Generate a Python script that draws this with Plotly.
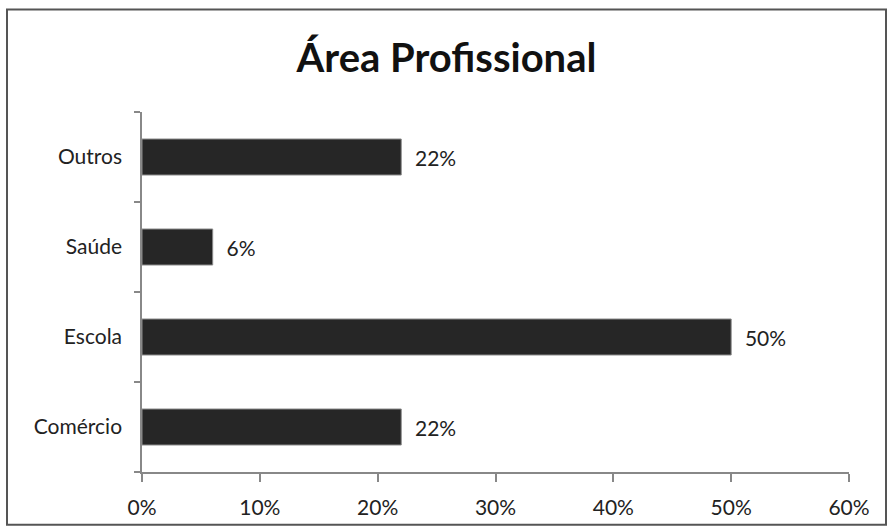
import plotly.graph_objects as go

categories = ["Comércio", "Escola", "Saúde", "Outros"]
values = [22, 50, 6, 22]
labels = ["22%", "50%", "6%", "22%"]
x_ticks = [0, 10, 20, 30, 40, 50, 60]
x_tick_labels = ["0%", "10%", "20%", "30%", "40%", "50%", "60%"]

W, H = 893, 531
L, R, T, B = 142, 44, 112, 57
pw, ph = W - L - R, H - T - B

def px_x(x):
    return (x - L) / pw

def px_y(y):
    return (H - B - y) / ph

fig = go.Figure(go.Bar(
    x=values, y=categories, orientation="h",
    text=labels, texttemplate="\u00a0\u00a0%{text}", textposition="outside",
    textfont=dict(size=21, color="#222"),
    marker=dict(color="#262626", line=dict(color="#8a8a8a", width=1)),
    width=0.4, cliponaxis=False,
))

fig.update_layout(
    width=W, height=H,
    margin=dict(l=L, r=R, t=T, b=B),
    paper_bgcolor="white", plot_bgcolor="white",
    font=dict(family="Lato, 'Open Sans', sans-serif", size=21, color="#222"),
    title=dict(text="<b>Área Profissional</b>", x=0.5, xanchor="center",
               y=1 - 58 / H, yanchor="middle",
               font=dict(size=40, color="#111")),
    showlegend=False,
)
fig.update_xaxes(range=[0, 60], tickvals=x_ticks, ticktext=x_tick_labels,
                 showgrid=False, zeroline=False, showline=True,
                 linecolor="#888", linewidth=1.5, ticks="outside",
                 ticklen=8, tickcolor="#888", tickwidth=1.5,
                 ticklabelstandoff=8,
                 tickfont=dict(size=21, color="#222"))
fig.update_yaxes(showgrid=False, showline=True, linecolor="#888", linewidth=1.5,
                 ticks="outside", ticklen=6, tickcolor="#888", tickwidth=1.5,
                 tickson="boundaries", ticklabelstandoff=14,
                 tickfont=dict(size=21, color="#222"))

fig.add_shape(type="rect", xref="paper", yref="paper",
              x0=px_x(7), x1=px_x(886), y0=px_y(527), y1=px_y(9),
              line=dict(color="#555", width=2), fillcolor="rgba(0,0,0,0)")

fig.write_html("out.html", config={"displayModeBar": False},
               post_script="document.body.style.margin='0';")
